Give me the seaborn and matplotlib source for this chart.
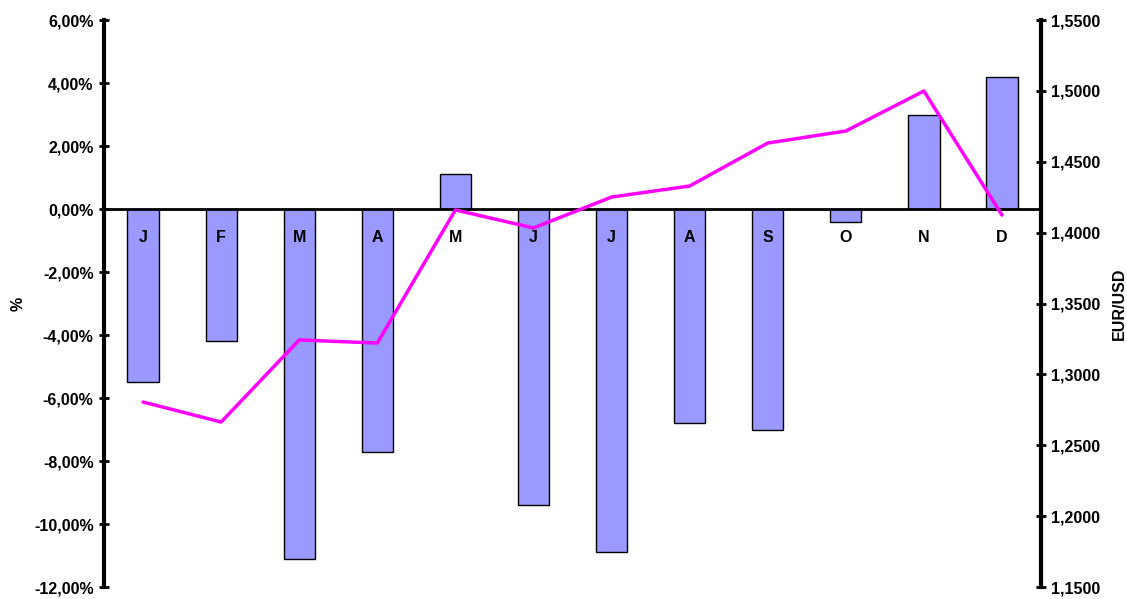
import numpy as np
import pandas as pd
import seaborn as sns
import matplotlib.pyplot as plt
from matplotlib.ticker import FuncFormatter, MultipleLocator

# Data
months = ['J', 'F', 'M', 'A', 'M', 'J', 'J', 'A', 'S', 'O', 'N', 'D']
pct_change = [-5.5, -4.2, -11.1, -7.7, 1.1, -9.4, -10.9, -6.8, -7.0, -0.4, 3.0, 4.2]
eur_usd = [1.2805, 1.2664, 1.3243, 1.3221, 1.4160, 1.4033, 1.4251, 1.4329,
           1.4632, 1.4717, 1.4999, 1.4124]

df = pd.DataFrame({'idx': range(len(months)), 'pct': pct_change, 'fx': eur_usd})

sns.set_style('white', {'axes.edgecolor': 'black', 'text.color': 'black',
                        'axes.labelcolor': 'black', 'xtick.color': 'black',
                        'ytick.color': 'black'})
plt.rcParams['font.family'] = ['Liberation Sans', 'DejaVu Sans']
plt.rcParams['font.weight'] = 'bold'

fig = plt.figure(figsize=(11.27, 5.99), dpi=100)
ax = fig.add_axes([0.0923, 0.02, 0.8314, 0.9466])

sns.barplot(data=df, x='idx', y='pct', color='#9999FF', saturation=1,
            edgecolor='black', linewidth=1, width=0.4, ax=ax)
ax.set_axisbelow(False)
ax.set_xlim(-0.5, len(months) - 0.5)
ax.set_ylim(-12, 6)
ax.yaxis.set_major_locator(MultipleLocator(2))
ax.yaxis.set_major_formatter(FuncFormatter(lambda v, p: f'{v:.2f}%'.replace('.', ',')))
ax.tick_params(axis='y', direction='inout', length=7, width=2, labelsize=11.5, pad=4)

# x axis on zero line, ticks between categories, month labels below
ax.spines['bottom'].set_position(('data', 0))
ax.spines['bottom'].set_linewidth(2)
ax.spines['top'].set_visible(False)
ax.spines['left'].set_linewidth(3)
ax.spines['right'].set_visible(False)
ax.set_xticks(np.arange(len(months)))
ax.set_xticklabels(months, fontsize=11.5, fontweight='bold')
ax.tick_params(axis='x', which='major', length=0, pad=15)
ax.set_xticks(np.arange(0.5, len(months) - 0.5), minor=True)
ax.tick_params(axis='x', which='minor', direction='out', length=4, width=2)
ax.set_xlabel('')
ax.set_ylabel('%', fontsize=11.5, fontweight='bold', labelpad=6)

ax2 = ax.twinx()
sns.lineplot(data=df, x='idx', y='fx', color='#FF00FF', linewidth=2.5, ax=ax2)
ax2.set_ylim(1.15, 1.55)
ax2.set_xlim(-0.5, len(months) - 0.5)
ax2.yaxis.set_major_locator(MultipleLocator(0.05))
ax2.yaxis.set_major_formatter(FuncFormatter(lambda v, p: f'{v:.4f}'.replace('.', ',')))
ax2.tick_params(axis='y', direction='inout', length=7, width=2, labelsize=11.5, pad=4)
for s in ['top', 'left', 'bottom']:
    ax2.spines[s].set_visible(False)
ax2.spines['right'].set_linewidth(3)
ax2.set_xlabel('')
ax2.set_ylabel('EUR/USD', fontsize=11.5, fontweight='bold', labelpad=8)
for lbl in ax.get_yticklabels() + ax2.get_yticklabels():
    lbl.set_fontweight('bold')

plt.savefig('out.png', dpi=100)
